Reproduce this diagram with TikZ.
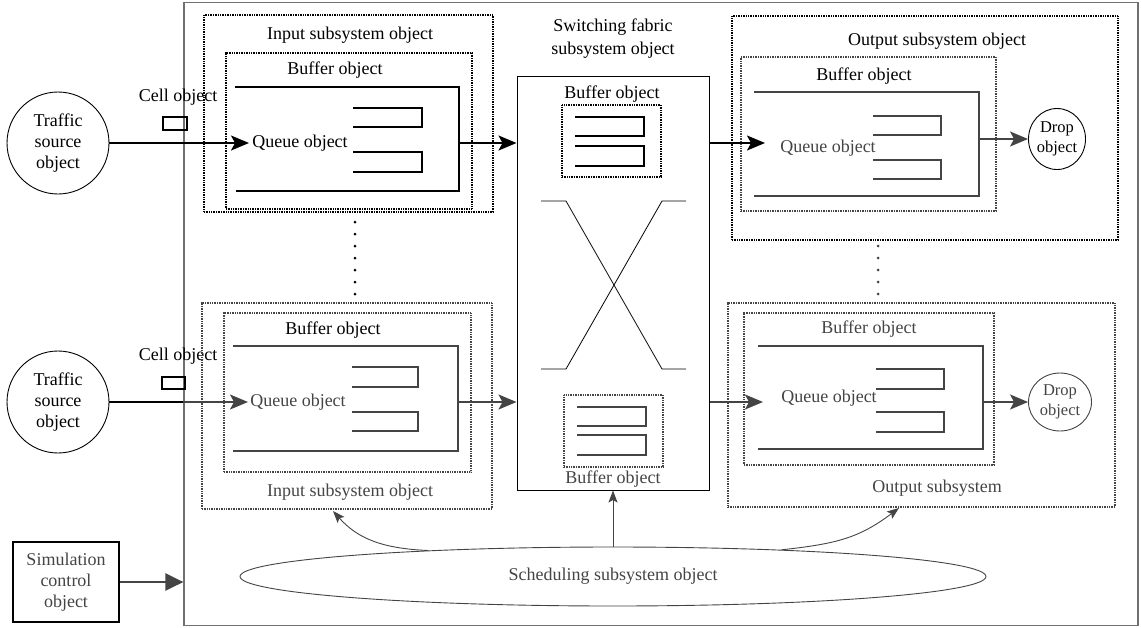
\documentclass[tikz,border=0pt]{standalone}
\usepackage{fontspec}
\setmainfont{Liberation Serif}
\usetikzlibrary{arrows.meta,shapes.geometric}
\definecolor{ink}{HTML}{111111}
\definecolor{inkgray}{HTML}{444444}
\definecolor{framegray}{HTML}{707070}

\begin{document}
\begin{tikzpicture}[x=1pt,y=-1pt,
  every node/.style={font=\fontsize{18}{21}\selectfont, inner sep=0pt},
  dotbox/.style={draw, dash pattern=on 1pt off 0.7pt, line width=1.3pt},
  qline/.style={line width=1.8pt},
  flow/.style={line width=1.7pt, -{Stealth[length=18pt,width=15pt,inset=4pt]}},
  ctrl/.style={line width=0.9pt, -{Stealth[length=12pt,width=9pt,inset=2.5pt]}},
  cellbox/.style={draw, line width=1.4pt, minimum width=24, minimum height=13},
  source/.style={draw, circle, line width=0.9pt, minimum size=102, align=center},
  drop/.style={draw, ellipse, line width=0.9pt, align=center, font=\fontsize{16.5}{20}\selectfont},
  dots/.style={line width=3pt, line cap=round, dash pattern=on 0pt off 12pt}
]
\useasboundingbox (0,0) rectangle (1141,627);

% whole system frame
\node[draw=framegray, line width=1.2pt, minimum width=954, minimum height=623] (sys) at (661,314) {};

% ---------------- upper input path ----------------
\node[source] (ts1) at (58,143) {Traffic\\source\\object};
\node (cell1) at (178,97) {Cell object};
\node[cellbox] (cb1) at (175,123.5) {};

\node[dotbox, minimum width=289, minimum height=197] (in1) at (348.5,113.5) {};
\node (in1lbl) at (350,35) {Input subsystem object};
\node[dotbox, minimum width=246, minimum height=156] (ib1) at (349,131) {};
\node (ib1lbl) at (335,70) {Buffer object};
\draw[qline] (235,87) -- (459,87) -- (459,191) -- (236,191);
\draw[qline] (353,108) -- (422,108) -- (422,127) -- (353,127);
\draw[qline] (353,152) -- (422,152) -- (422,172) -- (353,172);
\node (q1) at (300,143) {Queue object};
\coordinate (q1in) at (249,143);
\coordinate (q1out) at (459,143);

% ---------------- switching fabric ----------------
\node[draw, line width=1pt, minimum width=192, minimum height=414] (sw) at (613,283) {};
\node[align=center, font=\fontsize{18}{23}\selectfont] (swlbl) at (613,39) {Switching fabric\\subsystem object};
\node (sb1lbl) at (612,94) {Buffer object};
\node[dotbox, minimum width=99, minimum height=72] (sb1) at (611.5,141) {};
\draw[qline] (575,117) -- (644,117) -- (644,136) -- (575,136);
\draw[qline] (575,146) -- (644,146) -- (644,166) -- (575,166);
\draw[line width=0.8pt] (541,201) -- (566,201) -- (662,369) -- (686,369);
\draw[line width=0.8pt] (541,369) -- (566,369) -- (662,201) -- (686,201);
\begin{scope}[inkgray]
\node[dotbox, minimum width=99, minimum height=72] (sb2) at (613.5,431) {};
\draw[qline] (577,407) -- (646,407) -- (646,426) -- (577,426);
\draw[qline] (577,435) -- (646,435) -- (646,455) -- (577,455);
\node (sb2lbl) at (613,479) {Buffer object};
\end{scope}

\draw[flow] (ts1) -- (q1in);
\draw[flow] (q1out) -- (sw.west |- q1out);

% ---------------- upper output path ----------------
\node[dotbox, minimum width=386, minimum height=224] (out1) at (925,128) {};
\node (out1lbl) at (937,41) {Output subsystem object};
\begin{scope}[inkgray]
\node[dotbox, minimum width=255, minimum height=154] (ob1) at (868.5,134) {};
\draw[qline] (754,92) -- (979,92) -- (979,196) -- (754,196);
\draw[qline] (873,116) -- (941,116) -- (941,135) -- (873,135);
\draw[qline] (873,160) -- (941,160) -- (941,179) -- (873,179);
\node (q3) at (828,148) {Queue object};
\end{scope}
\node (ob1lbl) at (864,76) {Buffer object};
\node[drop, minimum width=57, minimum height=61] (drop1) at (1057,139) {Drop\\object};
\coordinate (q3in) at (765,143);
\coordinate (q3out) at (979,139);
\draw[flow] (sw.east |- q3in) -- (q3in);
\draw[flow, inkgray] (q3out) -- (drop1);

% ---------------- lower input path ----------------
\node[source] (ts2) at (58,402) {Traffic\\source\\object};
\node (cell2) at (178,356) {Cell object};
\node[cellbox, minimum width=23, minimum height=12] (cb2) at (173.5,383) {};
\begin{scope}[inkgray]
\node[dotbox, minimum width=290, minimum height=206] (in2) at (347,406) {};
\node (in2lbl) at (350,492) {Input subsystem object};
\node[dotbox, minimum width=247, minimum height=159] (ib2) at (347.5,392.5) {};
\draw[qline] (233,346) -- (458,346) -- (458,451) -- (233,451);
\draw[qline] (352,367) -- (418,367) -- (418,387) -- (352,387);
\draw[qline] (352,412) -- (418,412) -- (418,431) -- (352,431);
\node (q2) at (298,402) {Queue object};
\end{scope}
\node (ib2lbl) at (333,330) {Buffer object};
\coordinate (q2in) at (248,402);
\coordinate (q2out) at (458,402);
\draw[line width=1.7pt] (ts2) -- (sys.west |- q2in);
\draw[flow, inkgray] (sys.west |- q2in) -- (q2in);
\draw[flow, inkgray] (q2out) -- (sw.west |- q2out);

% ---------------- lower output path ----------------
\begin{scope}[inkgray]
\node[dotbox, minimum width=387, minimum height=204] (out2) at (921.5,405) {};
\node (out2lbl) at (937,488) {Output subsystem};
\node[dotbox, minimum width=250, minimum height=152] (ob2) at (869,389) {};
\node (ob2lbl) at (869,329) {Buffer object};
\draw[qline] (758,346) -- (983,346) -- (983,449) -- (758,449);
\draw[qline] (876,369) -- (944,369) -- (944,389) -- (876,389);
\draw[qline] (876,412) -- (944,412) -- (944,432) -- (876,432);
\node (q4) at (829,398) {Queue object};
\node[drop, minimum width=63, minimum height=58] (drop2) at (1060,402) {Drop\\object};
\coordinate (q4in) at (763,402);
\coordinate (q4out) at (983,402);
\draw[flow] (sw.east |- q4in) -- (q4in);
\draw[flow] (q4out) -- (drop2);
\end{scope}

% ellipsis marks between repeated subsystems
\coordinate (dotsA1) at (355,222);
\coordinate (dotsA2) at (355,298);
\coordinate (dotsB1) at (878,246);
\coordinate (dotsB2) at (878,296);
\draw[dots] (dotsA1) -- (dotsA2);
\draw[dots, inkgray] (dotsB1) -- (dotsB2);

% ---------------- control ----------------
\node[draw, line width=2.2pt, minimum width=106, minimum height=80, align=center, text=inkgray] (sim) at (66,582) {Simulation\\control\\object};
\draw[line width=2.6pt, inkgray, -{Triangle[length=18pt,width=17pt]}] (sim.east) -- (sim.east -| sys.west);

\begin{scope}[inkgray]
\node[draw, ellipse, line width=0.9pt, minimum width=746, minimum height=59] (sched) at (613,576.5) {Scheduling subsystem object};
\coordinate (inTip) at (333,511);
\coordinate (outTip) at (899,508);
\draw[ctrl] (sched.172) .. controls +(-45,-2) and +(25,28) .. (inTip);
\draw[ctrl] (sched.north) -- (sw.south);
\draw[ctrl] (sched.9) .. controls +(55,-6) and +(-40,30) .. (outTip);
\end{scope}
\end{tikzpicture}
\end{document}
